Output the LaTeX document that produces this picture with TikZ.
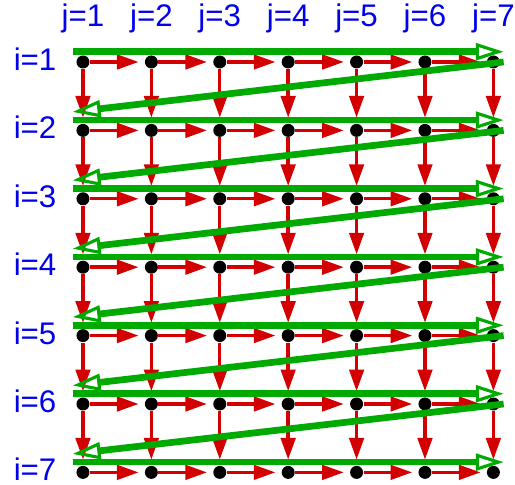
\documentclass[tikz,border=0pt]{standalone}
\usepackage{fontspec}
\setmainfont{Liberation Sans}
\usetikzlibrary{arrows.meta}

\definecolor{rouge}{RGB}{210,0,0}
\definecolor{vert}{RGB}{0,170,0}
\definecolor{bleu}{RGB}{0,0,235}

\begin{document}
\begin{tikzpicture}[
  point/.style={circle, fill=black, inner sep=0pt, minimum size=0.19cm},
  fleche/.style={rouge, line width=1.4pt, -{Triangle[length=9pt,width=6pt]}, shorten >=0.085cm},
  parcours/.style={vert, line width=2.8pt, -{Triangle[open, length=11.6pt, width=7pt, line width=1.3pt]}},
  etiq/.style={bleu, font=\fontsize{13}{15}\selectfont, inner sep=0pt}
]
\useasboundingbox (-1.213,-6.17) rectangle (6.316,0.906);

% Paramètres
\def\n{7}
\def\ecart{0.15} % débord du parcours

% Étiquettes
\foreach \k in {1,...,\n} {
  \node[etiq] (j\k) at (\k-1,0.64) {j=\k};
  \node[etiq] (i\k) at (-0.70,-\k+1.04) {i=\k};
}

% Points
\foreach \i in {1,...,\n}
  \foreach \j in {1,...,\n}
    \node[point] (p\i\j) at (\j-1,-\i+1) {};

% Flèches horizontales
\foreach \i in {1,...,\n}
  \foreach \j [count=\k from 2] in {1,...,6}
    \draw[fleche] (p\i\j) -- (p\i\k);

% Flèches verticales
\foreach \i [count=\k from 2] in {1,...,6}
  \foreach \j in {1,...,\n}
    \draw[fleche] (p\i\j) -- (p\k\j);

% Parcours ligne par ligne
\foreach \i in {1,...,\n}
  \draw[parcours] ([shift={(-\ecart,0.15)}]p\i1.center) -- ([shift={(\ecart,0.15)}]p\i7.center);

% Retours en diagonale
\foreach \i in {1,...,6}
  \draw[parcours] ([shift={(\ecart,0)}]p\i7.center) -- ([shift={(-\ecart,-0.73)}]p\i1.center);
\end{tikzpicture}
\end{document}
